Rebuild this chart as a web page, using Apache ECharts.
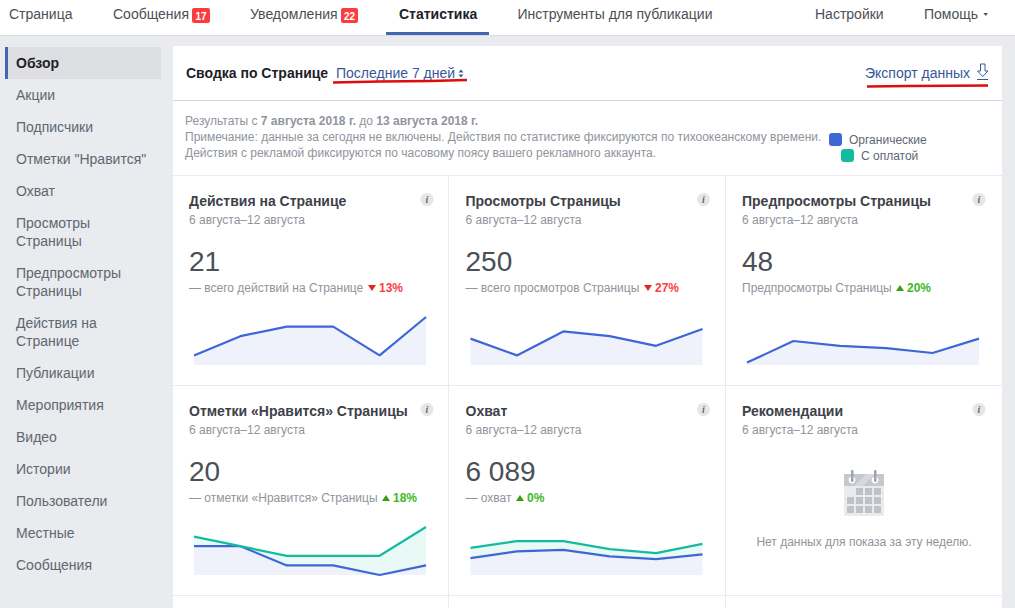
<!DOCTYPE html>
<html>
<head>
<meta charset="utf-8">
<style>
html, body { margin: 0; padding: 0; background: #e9ebee; }
#main { width: 1015px; height: 608px; }
</style>
<script src="https://cdn.jsdelivr.net/npm/echarts@6/dist/echarts.min.js"></script>
</head>
<body>
<div id="main"></div>
<script>
// data
const days = ['7 авг', '8 авг', '9 авг', '10 авг', '11 авг', '12 авг'];
const actionsOrganic = [1, 3, 4, 4, 1, 5];
const viewsOrganic = [44, 16, 56, 48, 32, 60];
const previewsOrganic = [1, 10, 8, 7, 5, 11];
const likesOrganic = [3, 3, 1, 1, 0, 1];
const likesPaid = [1, 0, 1, 1, 2, 4];
const reachOrganic = [590, 825, 880, 650, 555, 720];
const reachPaid = [360, 360, 305, 255, 210, 370];

const navItems = [
    ['Страница', 9], ['Сообщения', 113], ['Уведомления', 250],
    ['Инструменты для публикации', 517.5], ['Настройки', 815], ['Помощь', 924]
];
const sideItems = [
    ['Акции', 95], ['Подписчики', 127], ['Отметки "Нравится"', 159], ['Охват', 191],
    ['Просмотры', 223], ['Страницы', 241], ['Предпросмотры', 273], ['Страницы', 291],
    ['Действия на', 323], ['Странице', 341], ['Публикации', 373], ['Мероприятия', 405],
    ['Видео', 437], ['Истории', 469], ['Пользователи', 501], ['Местные', 533], ['Сообщения', 565]
];
const cards = [
    { title: 'Действия на Странице', total: '21', note: '— всего действий на Странице', pct: '13%', up: false, x: 189, y: 180, tri: 368 },
    { title: 'Просмотры Страницы', total: '250', note: '— всего просмотров Страницы', pct: '27%', up: false, x: 465.5, y: 180, tri: 644 },
    { title: 'Предпросмотры Страницы', total: '48', note: 'Предпросмотры Страницы', pct: '20%', up: true, x: 742, y: 180, tri: 896 },
    { title: 'Отметки «Нравится» Страницы', total: '20', note: '— отметки «Нравится» Страницы', pct: '18%', up: true, x: 189, y: 390, tri: 382 },
    { title: 'Охват', total: '6 089', note: '— охват', pct: '0%', up: true, x: 465.5, y: 390, tri: 516 },
    { title: 'Рекомендации', x: 742, y: 390 }
];
const charts = [
    { left: 194, top: 317, max: 5, organic: actionsOrganic },
    { left: 470.5, top: 317, max: 80, organic: viewsOrganic },
    { left: 747, top: 317, max: 20, organic: previewsOrganic },
    { left: 194, top: 527, max: 5, organic: likesOrganic, paid: likesPaid },
    { left: 470.5, top: 527, max: 1680, organic: reachOrganic, paid: reachPaid }
];

const BLUE = '#3f66d6', TEAL = '#14bba0', FONT = '"Liberation Sans", Arial, sans-serif';
const GREY = '#90949c', LINK = '#365899', RED = '#fa3e3e', GREEN = '#42b72a';

function txt(text, x, y, size, color, bold, align) {
    return {
        type: 'text', x: x, y: y, silent: true,
        style: {
            text: text, fill: color, font: (bold ? 'bold ' : '') + size + 'px ' + FONT,
            textVerticalAlign: 'middle', textAlign: align || 'left'
        }
    };
}
function box(x, y, w, h, color, r) {
    return { type: 'rect', silent: true, shape: { x: x, y: y, width: w, height: h, r: r || 0 }, style: { fill: color } };
}
function tri(points, color) {
    return { type: 'polygon', silent: true, shape: { points: points }, style: { fill: color } };
}
function stroke(points, color, width) {
    return { type: 'polyline', silent: true, shape: { points: points }, style: { stroke: color, lineWidth: width, fill: null } };
}

const gfx = [];
// top nav
gfx.push(box(0, 0, 1015, 35, '#fff'), box(0, 35, 1015, 1, '#d8dade'));
navItems.forEach(n => gfx.push(txt(n[0], n[1], 14, 14, '#4b4f56')));
gfx.push(txt('Статистика', 399, 14, 14, '#1d2129', true), box(386, 32, 103, 3, '#4267b2'));
gfx.push(box(192, 8, 18, 15, RED, 2), txt('17', 201, 16, 10, '#fff', true, 'center'));
gfx.push(box(341, 8, 17, 15, RED, 2), txt('22', 349.5, 16, 10, '#fff', true, 'center'));
gfx.push(tri([[983.5, 13], [988, 13], [985.7, 16]], '#4b4f56'));

// sidebar
gfx.push(box(5, 47, 156, 32, '#dddfe2'), box(5, 47, 3, 32, '#4267b2'));
gfx.push(txt('Обзор', 16, 62.5, 14, '#1d2129', true));
sideItems.forEach(s => gfx.push(txt(s[0], 16, s[1] - 0.5, 14, '#606770')));

// main panel
gfx.push(box(173, 46, 829, 562, '#fff'));
gfx.push(box(173, 100, 829, 1, '#d5d8de'), box(173, 175, 829, 1, '#e9ebee'));
gfx.push(box(173, 385, 829, 1, '#e9ebee'), box(173, 595, 829, 1, '#e9ebee'));
gfx.push(box(448, 176, 1, 432, '#e9ebee'), box(725, 176, 1, 432, '#e9ebee'));

gfx.push(txt('Сводка по Странице', 186, 73, 14, '#1d2129', true));
gfx.push(txt('Последние 7 дней', 336, 73, 14, LINK));
gfx.push(tri([[458.5, 72.5], [463.5, 72.5], [461, 69.5]], LINK), tri([[458.5, 74.5], [463.5, 74.5], [461, 77.5]], LINK));
gfx.push(txt('Экспорт данных', 865, 72.5, 14, LINK));
gfx.push(stroke([[980.5, 64], [985, 64], [985, 71], [988, 71], [982.7, 76.5], [977.5, 71], [980.5, 71], [980.5, 64]], LINK, 1));
gfx.push(stroke([[977, 79.5], [988, 79.5]], LINK, 1));
gfx.push(stroke([[333, 82.5], [380, 81.5], [430, 81], [467, 80]], '#e00b0b', 2.5));
gfx.push(stroke([[867, 86.5], [910, 86], [950, 85.8], [988, 85.5]], '#e00b0b', 2.5));

// notes
gfx.push({
    type: 'text', x: 185, y: 121, silent: true,
    style: {
        text: '{n|Результаты с }{b|7 августа 2018 г.}{n| до }{b|13 августа 2018 г.}',
        textVerticalAlign: 'middle',
        rich: {
            n: { font: '12px ' + FONT, fill: GREY },
            b: { font: 'bold 12px ' + FONT, fill: GREY }
        }
    }
});
gfx.push(txt('Примечание: данные за сегодня не включены. Действия по статистике фиксируются по тихоокеанскому времени.', 185, 137, 12, GREY));
gfx.push(txt('Действия с рекламой фиксируются по часовому поясу вашего рекламного аккаунта.', 185, 153, 12, GREY));

// cards
cards.forEach(c => {
    gfx.push(txt(c.title, c.x, c.y + 21, 14, '#3e4149', true));
    gfx.push(txt('6 августа–12 августа', c.x, c.y + 39.5, 12, GREY));
    const ix = c.x + (c.x < 500 ? 238 : 237);
    gfx.push({ type: 'circle', silent: true, shape: { cx: ix, cy: c.y + 19.5, r: 6.5 }, style: { fill: '#e6e6e6' } });
    gfx.push({
        type: 'text', x: ix, y: c.y + 19.5, silent: true,
        style: { text: 'i', fill: '#666', font: 'italic bold 10px "Liberation Serif", serif', textAlign: 'center', textVerticalAlign: 'middle' }
    });
    if (!c.total) return;
    gfx.push(txt(c.total, c.x, c.y + 81, 28, '#4b4f56'));
    gfx.push(txt(c.note, c.x, c.y + 107.5, 12, GREY));
    const ty = c.y + 105;
    if (c.up) {
        gfx.push(tri([[c.tri, ty + 6], [c.tri + 8, ty + 6], [c.tri + 4, ty]], '#3c9c12'));
        gfx.push(txt(c.pct, c.tri + 11, c.y + 107.5, 12, GREEN, true));
    } else {
        gfx.push(tri([[c.tri, ty], [c.tri + 8, ty], [c.tri + 4, ty + 6]], '#e5261d'));
        gfx.push(txt(c.pct, c.tri + 11, c.y + 107.5, 12, RED, true));
    }
});

// empty card with calendar icon
gfx.push(box(844, 474, 40, 42, '#e9ebee'), box(844, 474, 40, 12, '#c4c7cc'));
gfx.push(tri([[863, 486], [875, 474], [866, 474], [854, 486]], '#d6d8dc'));
[[0, 1], [0, 2], [0, 3], [1, 0], [1, 1], [1, 2], [1, 3], [2, 0], [2, 1], [2, 2], [2, 3]].forEach(p => {
    gfx.push(box(847 + p[1] * 9, 488 + p[0] * 9, 7, 7, '#bfc2c8'));
});
[852, 875].forEach(x => {
    gfx.push({ type: 'circle', silent: true, shape: { cx: x, cy: 480, r: 3.5 }, style: { fill: '#fff' } });
    gfx.push(box(x - 1, 470, 2.5, 12, '#9ea3ae', 1));
});
gfx.push(txt('Нет данных для показа за эту неделю.', 864, 541.5, 12, GREY, false, 'center'));

// one small grid per sparkline
const grid = [], xAxis = [], yAxis = [], series = [];
charts.forEach((c, i) => {
    grid.push({ left: c.left, top: c.top, width: 232, height: 48 });
    xAxis.push({ type: 'category', gridIndex: i, data: days, boundaryGap: false, show: false });
    yAxis.push({ type: 'value', gridIndex: i, min: 0, max: c.max, show: false });
    series.push({
        name: 'Органические', type: 'line', xAxisIndex: i, yAxisIndex: i, data: c.organic,
        stack: 's' + i, symbol: 'none', clip: false, silent: true, animation: false,
        lineStyle: { color: BLUE, width: 2.2 }, itemStyle: { color: BLUE }, areaStyle: { color: '#eff2fb', opacity: 1 }
    });
    if (c.paid) {
        series.push({
            name: 'С оплатой', type: 'line', xAxisIndex: i, yAxisIndex: i, data: c.paid,
            stack: 's' + i, symbol: 'none', clip: false, silent: true, animation: false,
            lineStyle: { color: TEAL, width: 2.2 }, itemStyle: { color: TEAL }, areaStyle: { color: '#e9f9f5', opacity: 1 }
        });
    }
});

function legendFor(name, left, top) {
    return {
        data: [name], left: left, top: top, padding: 0, selectedMode: false,
        icon: 'roundRect', itemWidth: 13, itemHeight: 13, itemGap: 6,
        textStyle: { fontFamily: FONT, fontSize: 12, color: '#606770', padding: [0, 0, 2, 2] }
    };
}

const chart = echarts.init(document.getElementById('main'), null, { renderer: 'svg' });
chart.setOption({
    animation: false,
    backgroundColor: '#e9ebee',
    textStyle: { fontFamily: FONT },
    legend: [legendFor('Органические', 829, 133), legendFor('С оплатой', 841, 149)],
    grid: grid,
    xAxis: xAxis,
    yAxis: yAxis,
    series: series,
    graphic: { elements: gfx }
});
</script>
</body>
</html>
